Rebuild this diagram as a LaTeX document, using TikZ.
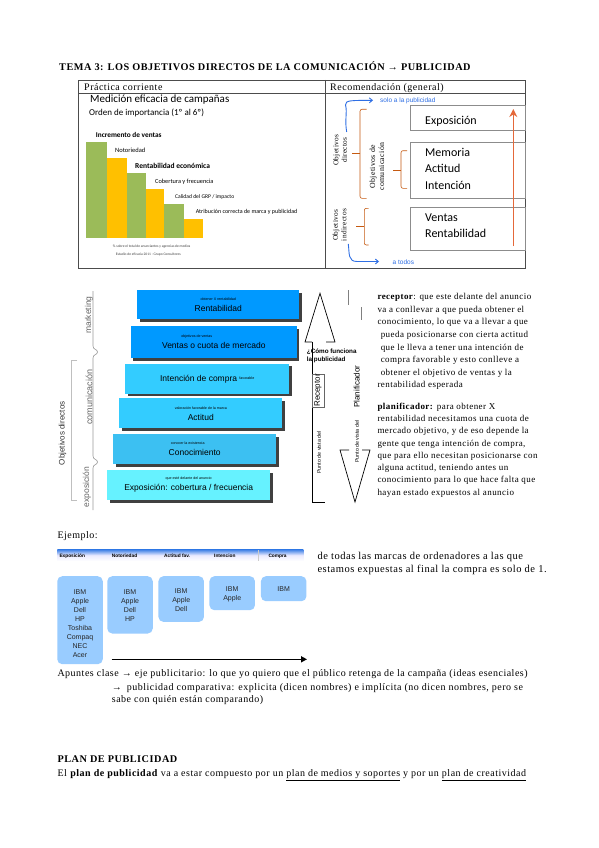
\documentclass[tikz,border=0pt]{standalone}
\usepackage{fontspec}
\setmainfont{Liberation Serif}[LetterSpace=5.0]
\newfontfamily\chartfont{Carlito}
\newfontfamily\boxfont{Liberation Sans}
\usetikzlibrary{positioning}
\usetikzlibrary{shadows}
\usetikzlibrary{arrows.meta}
\newcommand{\fsz}[2]{\fontsize{#1}{#2}\selectfont}
\definecolor{barGreen}{HTML}{9BBB59}
\definecolor{barYellow}{HTML}{FFC000}
\definecolor{braceOrange}{HTML}{C55A11}
\definecolor{riseOrange}{HTML}{E4683A}
\definecolor{linkBlue}{HTML}{2F6FE4}
\definecolor{stairDark}{HTML}{0099FF}
\definecolor{stairMid}{HTML}{33CCFF}
\definecolor{stairSoft}{HTML}{3CC0F2}
\definecolor{stairLight}{HTML}{66F2FF}
\definecolor{exBlue}{HTML}{99CCFF}
\definecolor{bandBlue}{HTML}{3C7FE6}

\begin{document}
\begin{tikzpicture}[
		x=1pt, y=-1pt,
		body/.style={anchor=base west, inner sep=0pt, font=\fsz{10}{12}},
		para/.style={anchor=north west, inner sep=0pt, align=left},
		chart/.style={anchor=base west, inner sep=0pt},
		table line/.style={draw=black!70, line width=0.6pt},
		rec text/.style={body, font=\chartfont\fsz{12}{14}},
		rec frame/.style={draw=black!45, line width=0.5pt},
		bracket/.style={draw=braceOrange, line width=0.6pt, rounded corners=2pt},
		blue link/.style={draw=linkBlue, line width=0.9pt, -{Straight Barb[length=3pt, width=5pt]}},
		rise arrow/.style={draw=riseOrange, line width=1.6pt, -{Stealth[length=8pt, width=8pt]}},
		side label/.style={rotate=90, inner sep=0pt, align=center},
		stair/.style={minimum height=30pt, align=center, inner sep=0pt, font=\boxfont\fsz{8.5}{9.5},
			drop shadow={shadow xshift=2.5pt, shadow yshift=-2.5pt, fill=black!75, opacity=1}},
		stage/.style={side label, text=black!60, font=\boxfont\fsz{8.5}{10}},
		stage line/.style={draw=black!40, line width=0.6pt},
		hollow arrow/.style={draw=black, line width=0.7pt, line join=miter},
		band label/.style={anchor=base west, inner sep=0pt, font=\boxfont\bfseries\fsz{4.8}{6}},
		ex box/.style={fill=exBlue, rounded corners=5pt, minimum width=45.5pt, anchor=north, inner sep=0pt},
		brand list/.style={align=center, inner sep=0pt, font=\boxfont\fsz{7}{9}, text=black!85},
		time arrow/.style={-{Triangle[length=6pt, width=6pt]}, line width=1.6pt},
	]
	\path[use as bounding box, fill=white] (0,0) rectangle (599,848);
	% Title
	\node[body, font=\fsz{10.25}{12}\bfseries] (title) at (59,70.5) {TEMA 3: LOS OBJETIVOS DIRECTOS DE LA COMUNICACIÓN → PUBLICIDAD};
	% Table
	\draw[table line] (78,80) rectangle (525,268);
	\draw[table line] (78,93.5) -- (525,93.5);
	\draw[table line] (325,80) -- (325,268);
	\node[body] (head left) at (84,91) {Práctica corriente};
	\node[body] (head right) at (330,91) {Recomendación (general)};
	% Chart: measured efficacy
	\node[chart, font=\chartfont\fsz{11}{13}] (chart title) at (90,102.5) {Medición eficacia de campañas};
	\node[chart, font=\chartfont\fsz{9}{11}] (chart order) at (89,115.5) {Orden de importancia (1º al 6º)};
	\fill[barGreen] (85.7,141.7) rectangle (106.7,238.3);
	\fill[barYellow] (106.7,157.7) rectangle (126.7,238.3);
	\fill[barGreen] (126.7,173.3) rectangle (146,238.3);
	\fill[barYellow] (146,189) rectangle (164.3,238.3);
	\fill[barGreen] (164.3,204.3) rectangle (184,238.3);
	\fill[barYellow] (184,219.3) rectangle (203.3,238.3);
	\node[chart, font=\chartfont\bfseries\fsz{7.3}{9}] (bar 1) at (95.7,137.5) {Incremento de ventas};
	\node[chart, font=\chartfont\fsz{6.5}{8}] (bar 2) at (115,152.5) {Notoriedad};
	\node[chart, font=\chartfont\bfseries\fsz{7.5}{9}] (bar 3) at (135,168) {Rentabilidad económica};
	\node[chart, font=\chartfont\fsz{6.3}{8}] (bar 4) at (155,183) {Cobertura y frecuencia};
	\node[chart, font=\chartfont\fsz{5.6}{7}] (bar 5) at (175,198.5) {Calidad del GRP / impacto};
	\node[chart, font=\chartfont\fsz{6}{7}] (bar 6) at (195.7,213.5) {Atribución correcta de marca y publicidad};
	\node[anchor=base, inner sep=0pt, font=\chartfont\fsz{3.6}{4}, text=black!75] (source 1) at (151.7,247.3) {\% sobre el total de anunciantes y agencias de medios};
	\node[anchor=base, inner sep=0pt, font=\chartfont\fsz{3.6}{4}, text=black!75] (source 2) at (148.3,255.6) {Estudio de eficacia 2011 · Grupo Consultores};
	% Recommendation
	\draw[rec frame] (410,105) rectangle (525,130.5);
	\draw[rec frame] (410,142) rectangle (525,198.5);
	\draw[rec frame] (410,207) rectangle (525,250);
	\node[rec text] (rec exposicion) at (425,124.3) {Exposición};
	\node[rec text] (rec memoria) at (425,156) {Memoria};
	\node[rec text] (rec actitud) at (425,172.7) {Actitud};
	\node[rec text] (rec intencion) at (425,189.3) {Intención};
	\node[rec text] (rec ventas) at (425,221) {Ventas};
	\node[rec text] (rec rentab) at (425,237.3) {Rentabilidad};
	\coordinate (rise bottom) at (513.3,246);
	\coordinate (rise top) at (513.3,109);
	\draw[rise arrow] (rise bottom) -- (rise top);
	\node[side label, font=\fsz{7.3}{8.5}] (obj directos) at (340,150) {Objetivos\\directos};
	\node[side label, font=\fsz{7.8}{9}] (obj comunicacion) at (377,166.7) {Objetivos de\\comunicación};
	\node[side label, font=\fsz{7.3}{8.5}] (obj indirectos) at (339.5,225) {Objetivos\\indirectos};
	\draw[bracket] (366.7,109.3) -- (360,109.3) -- (360,198.3) -- (366.7,198.3);
	\draw[bracket] (360,153.3) -- (352.3,153.3);
	\draw[bracket] (407,150.7) -- (401,150.7) -- (401,188.3) -- (407,188.3);
	\draw[bracket] (401,170) -- (392.5,170);
	\draw[bracket] (368.5,208.3) -- (364.3,208.3) -- (364.3,245) -- (368.5,245);
	\draw[bracket] (364.3,226.7) -- (355.5,226.7);
	\node[chart, font=\boxfont\fsz{6.5}{8}, text=linkBlue] (solo) at (380,102.8) {solo a la publicidad};
	\node[chart, font=\boxfont\fsz{6.5}{8}, text=linkBlue] (todos) at (392.5,264.5) {a todos};
	\coordinate (solo start) at (346.7,132);
	\coordinate (solo end) at (373,100.3);
	\coordinate (todos start) at (348.3,244);
	\coordinate (todos end) at (379,261.5);
	\draw[blue link] (solo start) .. controls (344.5,120) and (347.5,112) .. (345.5,105) .. controls (345,100) and (352,100.5) .. (solo end);
	\draw[blue link] (todos start) .. controls (349.5,254) and (348,261.5) .. (357,261.5) -- (todos end);
	% Stairs
	\node[stair, fill=stairDark, minimum width=162pt, minimum height=29.3pt] (stair 6) at (218.3,304.7) {{\fsz{3.6}{4}obtener X rentabilidad}\\[1.5pt]Rentabilidad};
	\node[stair, fill=stairDark, minimum width=165.7pt, minimum height=32.3pt] (stair 5) at (213.8,342.2) {\hspace*{-34pt}{\fsz{3.6}{4}objetivos de ventas}\\[1.5pt]Ventas o cuota de mercado};
	\node[stair, fill=stairMid, minimum width=164.3pt] (stair 4) at (207.2,378.8) {Intención de compra \raisebox{1.2pt}{\fsz{3.6}{4}favorable}};
	\node[stair, fill=stairMid, minimum width=163pt] (stair 3) at (200.8,413.3) {{\fsz{3.6}{4}valoración favorable de la marca}\\[1.5pt]Actitud};
	\node[stair, fill=stairSoft, minimum width=162.7pt] (stair 2) at (194.7,449) {\hspace*{-14pt}{\fsz{3.6}{4}conocer la existencia}\\[1.5pt]Conocimiento};
	\node[stair, fill=stairLight, minimum width=162.7pt] (stair 1) at (188.7,485) {{\fsz{3.6}{4}que esté delante del anuncio}\\[1.5pt]Exposición: cobertura / frecuencia};
	% Stage labels
	\node[stage] (stage marketing) at (89,315) {marketing};
	\node[stage, font=\boxfont\fsz{9}{10}] (stage comunicacion) at (89,397.3) {comunicación};
	\node[stage] (stage exposicion) at (87,487) {exposición};
	\node[side label, text=black!80, font=\boxfont\fsz{8}{9}] (stage objetivos) at (62.5,433.3) {Objetivos directos};
	\draw[stage line] (93,291) -- (93,346) .. controls (93,350) and (97.5,349) .. (97.5,352) .. controls (97.5,355) and (93,354) .. (93,358) -- (93,456) .. controls (93,460) and (97.5,459) .. (97.5,462) .. controls (97.5,465) and (93,464) .. (93,468) -- (93,510);
	\draw[stage line, draw=black!25] (77,360) -- (71.7,360) -- (71.7,500) -- (77,500);
	% How advertising works
	\draw[hollow arrow] (312,342) -- (305,342) -- (320,293.3) -- (335,342) -- (326,342);
	\draw[hollow arrow, line width=0.6pt] (312,342) -- (312,502) -- (325,502);
	\draw[draw=black!50, line width=0.6pt] (348.3,290) -- (348.3,305);
	\draw[draw=black!50, line width=0.6pt] (361.7,307) -- (361.7,320);
	\draw[hollow arrow] (349,450) -- (340,450) -- (355,502) -- (370,450) -- (362,450);
	\node[para, font=\boxfont\bfseries\fsz{6.3}{8.6}] (how) at (306.7,348.3) {¿Cómo funciona\\la publicidad};
	\node[side label, draw=black!60, fill=white, font=\boxfont\fsz{8}{9}, minimum width=32.4pt, minimum height=12.3pt] (receptor box) at (317.9,390.5) {Receptor};
	\node[side label, font=\boxfont\fsz{8}{9}] (planificador) at (356.7,386.7) {Planificador};
	\node[side label, font=\boxfont\fsz{5.3}{6}] (view receptor) at (319,452.5) {Punto de vista del};
	\node[side label, font=\boxfont\fsz{5.3}{6}] (view planif) at (357,441.7) {Punto de vista del};
	% Explanation
	\node[para, font=\fsz{9}{12.6}] (receptor text) at (377.3,293.2) {\textbf{receptor}: que este delante del anuncio\\va a conllevar a que pueda obtener el\\conocimiento, lo que va a llevar a que\\\hspace*{3.3pt}pueda posicionarse con cierta actitud\\\hspace*{3.3pt}que le lleva a tener una intención de\\\hspace*{3.3pt}compra favorable y esto conlleve a\\\hspace*{3.3pt}obtener el objetivo de ventas y la\\rentabilidad esperada};
	\node[para, font=\fsz{9}{12.25}] (planificador text) at (377.3,402.9) {\textbf{planificador:} para obtener X\\rentabilidad necesitamos una cuota de\\mercado objetivo, y de eso depende la\\gente que tenga intención de compra,\\que para ello necesitan posicionarse con\\alguna actitud, teniendo antes un\\conocimiento para lo que hace falta que\\hayan estado expuestos al anuncio};
	% Example
	\node[body] (ejemplo) at (57.3,538) {Ejemplo:};
	\shade[top color=bandBlue, bottom color=white, middle color=blue!8] (57.3,549.5) rectangle (303.3,561);
	\draw[white!80!black, line width=0.4pt] (258.3,550) -- (258.3,561);
	\node[band label] (band 1) at (59.3,557.5) {Exposición};
	\node[band label] (band 2) at (111.7,557.5) {Notoriedad};
	\node[band label] (band 3) at (164,557.5) {Actitud fav.};
	\node[band label] (band 4) at (214,557.5) {Intencion};
	\node[band label] (band 5) at (268.3,557.5) {Compra};
	\node[ex box, minimum height=88pt] (ex box 1) at (80,576) {};
	\node[ex box, minimum height=57.3pt] (ex box 2) at (130,576) {};
	\node[ex box, minimum height=45.7pt] (ex box 3) at (181.2,576) {};
	\node[ex box, minimum height=34pt] (ex box 4) at (232.2,576) {};
	\node[ex box, minimum height=25pt] (ex box 5) at (283.7,576) {};
	\node[brand list, below=13pt of ex box 1.north] (brands 1) {IBM\\Apple\\Dell\\HP\\Toshiba\\Compaq\\NEC\\Acer};
	\node[brand list, below=13pt of ex box 2.north] (brands 2) {IBM\\Apple\\Dell\\HP};
	\node[brand list, below=12pt of ex box 3.north] (brands 3) {IBM\\Apple\\Dell};
	\node[brand list, below=10.5pt of ex box 4.north] (brands 4) {IBM\\Apple};
	\node[brand list, below=10.5pt of ex box 5.north] (brands 5) {IBM};
	\coordinate (time start) at (111.7,659.3);
	\coordinate (time end) at (307,659.3);
	\draw[time arrow] (time start) -- (time end);
	\node[para, font=\fsz{10.5}{12.7}] (ejemplo text) at (317.3,552) {de todas las marcas de ordenadores a las que\\estamos expuestas al final la compra es solo de 1.};
	% Class notes
	\node[body] (apuntes 1) at (57.3,676) {Apuntes clase → eje publicitario: lo que yo quiero que el público retenga de la campaña (ideas esenciales)};
	\node[body] (apuntes 2) at (111.7,690.5) {→\hspace{5pt}publicidad comparativa: explicita (dicen nombres) e implícita (no dicen nombres, pero se};
	\node[body] (apuntes 3) at (111.7,702.5) {sabe con quién están comparando)};
	% Plan
	\node[body, font=\fsz{10.25}{12}\bfseries] (plan title) at (57.3,762.5) {PLAN DE PUBLICIDAD};
	\node[body] (plan text) at (57.3,776.7) {El \textbf{plan de publicidad} va a estar compuesto por un \underline{plan de medios y soportes} y por un \underline{plan de creatividad}};
\end{tikzpicture}
\end{document}
